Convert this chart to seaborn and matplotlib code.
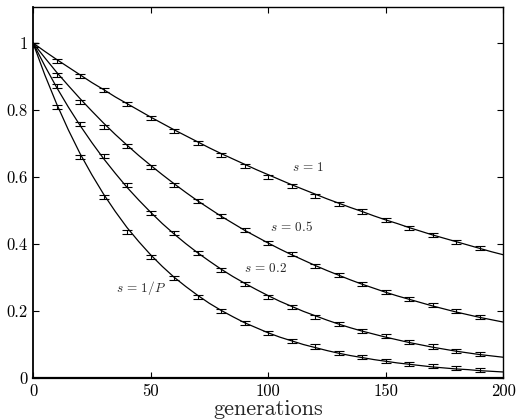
import numpy as np
import pandas as pd
import seaborn as sns
from matplotlib import pyplot as plt

# generations sampled in the simulation (error bar points)
gen_pts = [0, 10, 20, 30, 40, 50, 60, 70, 80, 90, 100,
           110, 120, 130, 140, 150, 160, 170, 180, 190]

# simulated values
pts_s1 = [0.994, 0.946, 0.901, 0.860, 0.818, 0.776, 0.738, 0.702, 0.666, 0.634,
          0.601, 0.573, 0.543, 0.518, 0.497, 0.471, 0.447, 0.426, 0.407, 0.387]
pts_s05 = [0.994, 0.904, 0.824, 0.749, 0.693, 0.630, 0.576, 0.528, 0.484, 0.442,
           0.404, 0.369, 0.334, 0.307, 0.281, 0.258, 0.237, 0.218, 0.200, 0.181]
pts_s02 = [0.994, 0.872, 0.758, 0.663, 0.576, 0.493, 0.432, 0.374, 0.322, 0.281,
           0.243, 0.211, 0.183, 0.161, 0.140, 0.125, 0.106, 0.094, 0.082, 0.072]
pts_sP = [0.994, 0.809, 0.660, 0.540, 0.436, 0.362, 0.298, 0.243, 0.200, 0.165,
          0.135, 0.111, 0.094, 0.074, 0.063, 0.052, 0.042, 0.036, 0.029, 0.024]
err = 0.006

# theory curves, read every 5 generations
gen_line = list(range(0, 205, 5))
line_s1 = [1.000, 0.975, 0.951, 0.928, 0.905, 0.882, 0.861, 0.839, 0.819, 0.799,
           0.779, 0.760, 0.741, 0.723, 0.705, 0.687, 0.670, 0.654, 0.638, 0.622,
           0.607, 0.592, 0.577, 0.563, 0.549, 0.535, 0.522, 0.509, 0.497, 0.484,
           0.472, 0.461, 0.449, 0.438, 0.427, 0.417, 0.407, 0.397, 0.387, 0.377, 0.368]
line_s05 = [1.000, 0.956, 0.913, 0.873, 0.834, 0.797, 0.761, 0.727, 0.695, 0.664,
            0.635, 0.607, 0.580, 0.554, 0.529, 0.506, 0.483, 0.462, 0.441, 0.422,
            0.403, 0.385, 0.368, 0.352, 0.336, 0.321, 0.307, 0.293, 0.280, 0.268,
            0.256, 0.245, 0.235, 0.225, 0.215, 0.206, 0.197, 0.189, 0.181, 0.174, 0.167]
line_s02 = [1.000, 0.932, 0.868, 0.809, 0.754, 0.703, 0.655, 0.611, 0.569, 0.531,
            0.495, 0.461, 0.430, 0.401, 0.374, 0.349, 0.325, 0.303, 0.283, 0.264,
            0.246, 0.229, 0.214, 0.199, 0.186, 0.173, 0.161, 0.150, 0.140, 0.131,
            0.122, 0.114, 0.106, 0.099, 0.092, 0.086, 0.080, 0.075, 0.070, 0.066, 0.062]
line_sP = [1.000, 0.905, 0.819, 0.741, 0.670, 0.607, 0.549, 0.497, 0.449, 0.407,
           0.368, 0.333, 0.301, 0.273, 0.247, 0.223, 0.202, 0.183, 0.165, 0.150,
           0.135, 0.122, 0.111, 0.100, 0.091, 0.082, 0.074, 0.067, 0.061, 0.055,
           0.050, 0.045, 0.041, 0.037, 0.033, 0.030, 0.027, 0.025, 0.022, 0.020, 0.018]

labels = [r'$s\,=\,1$', r'$s\,=\,0.5$', r'$s\,=\,0.2$', r'$s\,=\,1/P$']
label_pos = [(117, 0.627), (110, 0.451), (99, 0.328), (46, 0.269)]

sns.set_theme(style="ticks")
plt.rcParams['font.family'] = ['cmr10', 'DejaVu Serif']
plt.rcParams['mathtext.fontset'] = 'cm'
plt.rcParams['axes.formatter.use_mathtext'] = True

fig = plt.figure(figsize=(5.16, 4.2), dpi=100)
ax = fig.add_axes([0.064, 0.1, 0.911, 0.883])

lines = pd.DataFrame({
    'gen': gen_line * 4,
    'val': line_s1 + line_s05 + line_s02 + line_sP,
    'series': sum([[l] * len(gen_line) for l in labels], []),
})
sns.lineplot(data=lines, x='gen', y='val', units='series', estimator=None,
             color='black', linewidth=0.9, ax=ax)

for pts in [pts_s1, pts_s05, pts_s02, pts_sP]:
    ax.errorbar(gen_pts, pts, yerr=err, fmt='none', ecolor='black',
                elinewidth=0.8, capsize=3.5, capthick=0.8)

for lab, (x, y) in zip(labels, label_pos):
    ax.text(x, y, lab, fontsize=9.5, ha='center', va='center')

ax.set_xlim(0, 200)
ax.set_ylim(0, 1.107)
ax.set_xticks([0, 50, 100, 150, 200])
ax.set_xticklabels(['0', '50', '100', '150', '200'])
ax.set_yticks([0, 0.2, 0.4, 0.6, 0.8, 1])
ax.set_yticklabels(['0', '0.2', '0.4', '0.6', '0.8', '1'])
ax.tick_params(direction='in', length=4, width=0.8, top=True, right=True,
               labelsize=12, pad=4, colors='black')
ax.set_xlabel('generations', fontsize=16, labelpad=0.5)
ax.set_ylabel('')
for s in ax.spines.values():
    s.set_color('black')
    s.set_linewidth(1.0)
ax.spines['bottom'].set_linewidth(1.6)
ax.spines['left'].set_linewidth(1.3)

fig.savefig('out.png', dpi=100)
